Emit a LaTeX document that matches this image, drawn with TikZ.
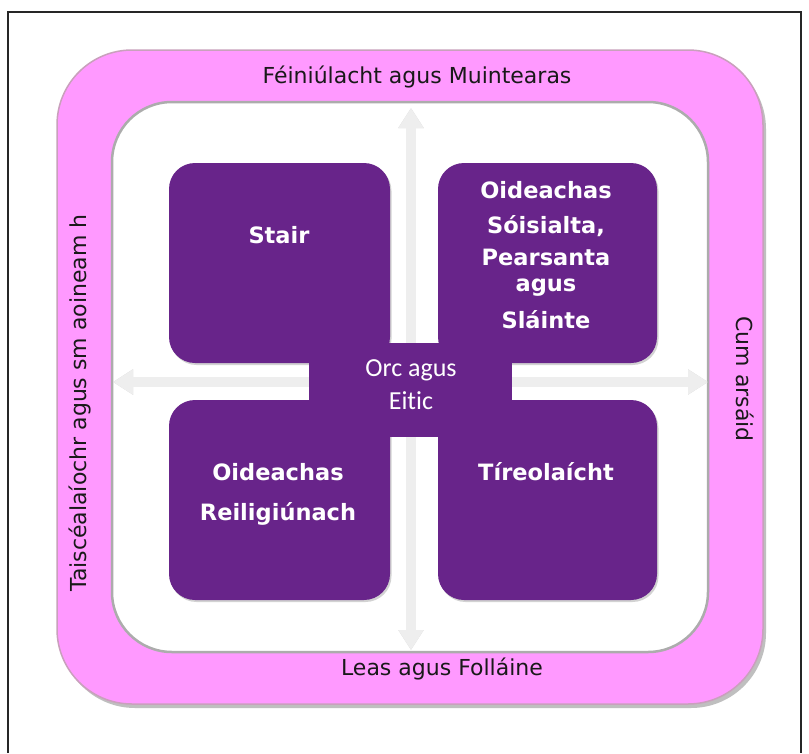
\documentclass[tikz,border=0pt]{standalone}
\usepackage{fontspec}
\setmainfont{DejaVu Sans}
\newfontfamily\cfont[Ligatures=NoCommon]{Carlito}
\usetikzlibrary{arrows.meta,shadows}
\definecolor{pinkfill}{HTML}{FF99FF}
\definecolor{pinkedge}{HTML}{C9A0BC}
\definecolor{purp}{HTML}{68248A}
\definecolor{arr}{HTML}{EEEEEE}
\definecolor{arrsh}{HTML}{B8B8B8}
\begin{document}
\begin{tikzpicture}[x=1pt,y=-1pt,
  box/.style={fill=purp, rounded corners=26pt, inner sep=0pt,
    drop shadow={opacity=0.35, shadow xshift=1.5pt, shadow yshift=-2pt}},
  boxtxt/.style={text=white, font=\fontsize{22.5}{26}\selectfont\bfseries, anchor=base, inner sep=0pt},
  midtxt/.style={text=white, font=\fontsize{26}{30}\selectfont\cfont, anchor=base, inner sep=0pt},
  lab/.style={text=black!90, font=\fontsize{22}{26}\selectfont, anchor=base, inner sep=0pt},
  arrowline/.style={line width=10pt, draw=arr, -{Triangle[width=24pt,length=20pt]}},
  arrowshadow/.style={line width=10pt, draw=arrsh, opacity=0.6, -{Triangle[width=24pt,length=20pt]}}
]
\useasboundingbox (0,0) rectangle (809,753);
\fill[white] (0,0) rectangle (809,753);
% frame
\draw[line width=1.5pt, black!85] (8,753) -- (8,12) -- (801,12) -- (801,753);
% outer pink band
\fill[gray!50, rounded corners=75pt] (60,54) rectangle (766,708);
\draw[pinkedge, fill=pinkfill, line width=1.5pt, rounded corners=75pt] (57,50) rectangle (763,704);
% inner white area
\draw[gray!65, fill=white, line width=2.5pt, rounded corners=60pt] (112,102) rectangle (708,652);
% arrows
\coordinate (o) at (411,382);
\coordinate (ttip) at (411,108);
\coordinate (btip) at (411,650);
\coordinate (ltip) at (113,382);
\coordinate (rtip) at (708,382);
\begin{scope}[shift={(1.5,2)}]
  \draw[arrowshadow] (o) -- (ttip);
  \draw[arrowshadow] (o) -- (btip);
  \draw[arrowshadow] (o) -- (ltip);
  \draw[arrowshadow] (o) -- (rtip);
\end{scope}
\draw[arrowline] (o) -- (ttip);
\draw[arrowline] (o) -- (btip);
\draw[arrowline] (o) -- (ltip);
\draw[arrowline] (o) -- (rtip);
% purple boxes
\node[box, minimum width=221pt, minimum height=200pt] (tl) at (279.5,263) {};
\node[box, minimum width=219pt, minimum height=200pt] (tr) at (547.5,263) {};
\node[box, minimum width=221pt, minimum height=200pt] (bl) at (279.5,500) {};
\node[box, minimum width=219pt, minimum height=200pt] (br) at (547.5,500) {};
\node[fill=purp, inner sep=0pt, minimum width=203pt, minimum height=94pt] (c) at (410.5,390) {};
% box texts
\node[boxtxt] (tlt) at (279,243) {Stair};
\node[boxtxt] (tr1) at (546,198) {Oideachas};
\node[boxtxt] (tr2) at (546,233) {Sóisialta,};
\node[boxtxt] (tr3) at (546,265) {Pearsanta};
\node[boxtxt] (tr4) at (546,291) {agus};
\node[boxtxt] (tr5) at (546,328) {Sláinte};
\node[boxtxt] (bl1) at (278,480) {Oideachas};
\node[boxtxt] (bl2) at (278,520) {Reiligiúnach};
\node[boxtxt] (brt) at (546,480) {Tíreolaícht};
\node[midtxt] (c1) at (411,376) {Orc agus};
\node[midtxt] (c2) at (411,409) {Eitic};
% band labels
\node[lab] (ltop) at (417,83) {Féiniúlacht agus Muintearas};
\node[lab] (lbot) at (442,675) {Leas agus Folláine};
\node[lab, rotate=90] (lleft) at (86,403) {Taiscéalaíochr agus sm aoineam h};
\node[lab, rotate=-90] (lright) at (736,379) {Cum arsáid};
\end{tikzpicture}
\end{document}
